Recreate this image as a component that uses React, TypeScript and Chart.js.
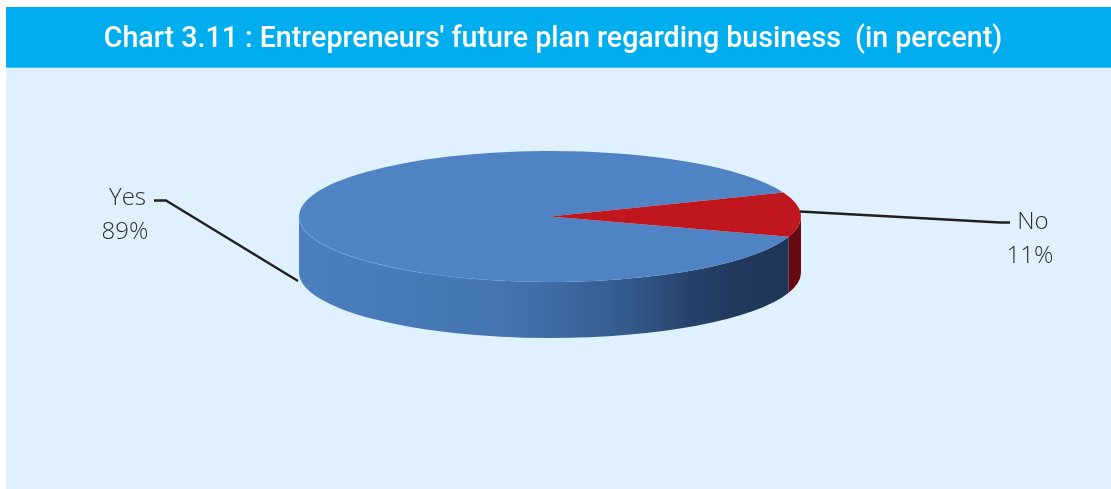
import React, { useEffect, useRef } from "react";
import { Chart, registerables } from "chart.js";

Chart.register(...registerables);

const categories = ["Yes", "No"];
const shares = [89, 11];
const sliceColors = ["#5083C4", "#C0171E"];
const chartTitle = "Chart 3.11 : Entrepreneurs' future plan regarding business  (in percent)";

const CX = 550;
const CY = 216.5;
const RX = 251;
const RY = 65.5;
const DEPTH = 56;
const LABEL_FONT = "300 24px 'Open Sans'";

const pie3d = {
  id: "pie3d",
  beforeDraw(chart: any) {
    const { ctx, width, height } = chart;
    ctx.save();
    ctx.fillStyle = "#ffffff";
    ctx.fillRect(0, 0, width, height);
    ctx.fillStyle = "#DFF1FD";
    ctx.fillRect(6, 68, width - 6, height - 68);
    ctx.fillStyle = "#00AEEF";
    ctx.fillRect(6, 7, width - 6, 60);
    ctx.fillStyle = "#45C4F5";
    ctx.fillRect(6, 67, width - 6, 1);
    ctx.restore();
  },
  beforeDatasetsDraw(chart: any) {
    const { ctx } = chart;
    const arcs = chart.getDatasetMeta(0).data;
    const blue = ctx.createLinearGradient(CX - RX, 0, CX + RX, 0);
    blue.addColorStop(0, "#4B7FC0");
    blue.addColorStop(0.4, "#4475B2");
    blue.addColorStop(0.52, "#3D6AA2");
    blue.addColorStop(0.66, "#335A8B");
    blue.addColorStop(0.78, "#27426A");
    blue.addColorStop(0.88, "#21385C");
    blue.addColorStop(1, "#1F3557");
    const wallFills = [blue, "#650A10"];
    arcs.forEach((arc: any, i: number) => {
      for (const shift of [-2 * Math.PI, 0, 2 * Math.PI]) {
        const a = Math.max(arc.startAngle + shift, 0);
        const b = Math.min(arc.endAngle + shift, Math.PI);
        if (a >= b) continue;
        ctx.save();
        ctx.beginPath();
        ctx.ellipse(CX, CY, RX, RY, 0, a, b);
        ctx.ellipse(CX, CY + DEPTH, RX, RY, 0, b, a, true);
        ctx.closePath();
        ctx.fillStyle = wallFills[i];
        ctx.fill();
        ctx.restore();
      }
    });
    const cx0 = arcs[0].x;
    const cy0 = arcs[0].y;
    ctx.save();
    ctx.translate(CX, CY);
    ctx.scale(1, RY / RX);
    ctx.translate(-cx0, -cy0);
  },
  afterDatasetsDraw(chart: any) {
    const { ctx } = chart;
    ctx.restore();

    // soft highlight along the front-left rim
    ctx.save();
    const rim = ctx.createLinearGradient(CX - RX, 0, CX - 20, 0);
    rim.addColorStop(0, "rgba(125,170,228,0.4)");
    rim.addColorStop(1, "rgba(125,170,228,0)");
    ctx.strokeStyle = rim;
    ctx.lineWidth = 1.5;
    ctx.beginPath();
    ctx.ellipse(CX, CY, RX, RY, 0, Math.PI * 0.5, Math.PI);
    ctx.stroke();
    ctx.restore();

    // leader lines and labels
    ctx.save();
    ctx.strokeStyle = "#231F20";
    ctx.lineWidth = 2.5;
    ctx.lineJoin = "round";
    ctx.beginPath();
    ctx.moveTo(154, 200.5);
    ctx.lineTo(166, 200.5);
    ctx.lineTo(298, 281);
    ctx.moveTo(800, 211.5);
    ctx.lineTo(1000, 222.5);
    ctx.lineTo(1010, 222.5);
    ctx.stroke();

    ctx.fillStyle = "#2E2E2E";
    ctx.font = LABEL_FONT;
    ctx.textAlign = "center";
    ctx.textBaseline = "middle";
    const spots = [
      { x1: 127.5, x2: 125, y1: 198, y2: 232 },
      { x1: 1033, x2: 1030, y1: 222, y2: 256 },
    ];
    categories.forEach((name, i) => {
      ctx.fillText(name, spots[i].x1, spots[i].y1);
      ctx.fillText(`${shares[i]}%`, spots[i].x2, spots[i].y2);
    });
    ctx.restore();
  },
};

export default function App() {
  const ref = useRef<HTMLCanvasElement>(null);
  useEffect(() => {
    const chart = new Chart(ref.current!, {
      type: "pie",
      data: {
        labels: categories,
        datasets: [
          {
            data: shares,
            backgroundColor: sliceColors,
            borderWidth: 0,
            radius: RX,
            clip: false,
          } as any,
        ],
      },
      options: {
        responsive: false,
        animation: false,
        rotation: 108,
        layout: { padding: { left: 0, right: 5, top: 0, bottom: 0 } },
        plugins: {
          legend: { display: false },
          tooltip: { enabled: false },
          title: {
            display: true,
            text: chartTitle,
            color: "#ffffff",
            fullSize: false,
            font: { family: "Roboto", size: 28.6, weight: 500 },
            padding: { top: 23, bottom: 10 },
          },
        },
      },
      plugins: [pie3d],
    } as any);
    return () => chart.destroy();
  }, []);
  return (
    <div style={{ position: "absolute", left: 0, top: 0, width: 1111, height: 489 }}>
      <canvas ref={ref} width={1111} height={489} style={{ display: "block" }} />
    </div>
  );
}
